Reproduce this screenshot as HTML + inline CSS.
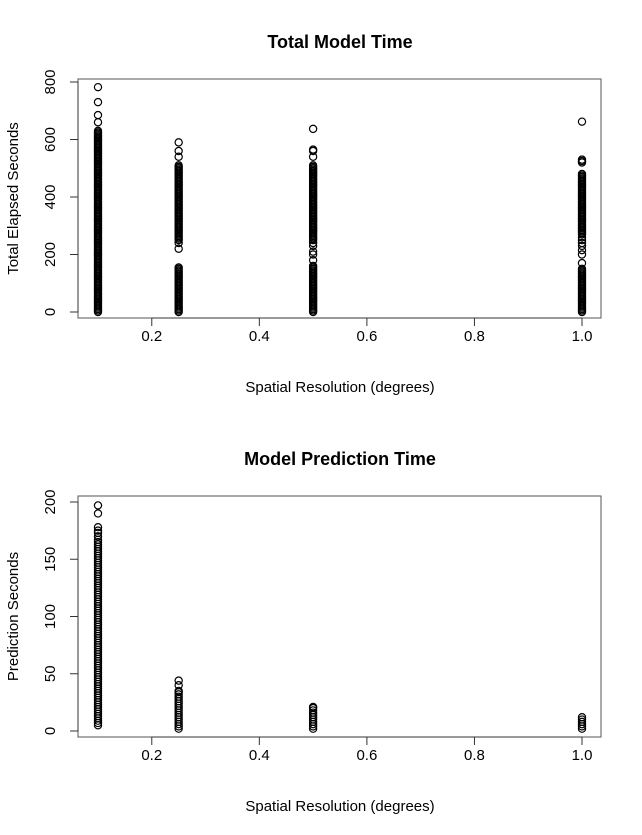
<!DOCTYPE html>
<html><head><meta charset="utf-8"><style>
body{margin:0;background:#fff;}
svg{display:block;font-family:"Liberation Sans",Arial,sans-serif;}
</style></head><body>
<svg id="s" width="642" height="835" viewBox="0 0 642 835"></svg>
<script>
const xCats=[0.1,0.25,0.5,1.0];
const xTicks=[0.2,0.4,0.6,0.8,1.0];
const topYTicks=[0,200,400,600,800];
const botYTicks=[0,50,100,150,200];
const top01=[0,5,10,15,20,25,30,35,40,45,50,55,60,65,70,75,80,85,90,95,100,105,110,115,120,125,130,135,140,145,150,155,160,165,170,175,180,185,190,195,200,205,210,215,220,225,230,235,240,245,250,255,260,265,270,275,280,285,290,295,300,305,310,315,320,325,330,335,340,345,350,355,360,365,370,375,380,385,390,395,400,405,410,415,420,425,430,435,440,445,450,455,460,465,470,475,480,485,490,495,500,505,510,515,520,525,530,535,540,545,550,555,560,565,570,575,580,585,590,595,600,605,610,615,620,625,630,660,685,730,782];
const top025=[0,5,10,15,20,25,30,35,40,45,50,55,60,65,70,75,80,85,90,95,100,105,110,115,120,125,130,135,140,145,150,155,220,240,250,255,260,265,270,275,280,285,290,295,300,305,310,315,320,325,330,335,340,345,350,355,360,365,370,375,380,385,390,395,400,405,410,415,420,425,430,435,440,445,450,455,460,465,470,475,480,485,490,495,500,505,510,540,560,590];
const top05=[0,5,10,15,20,25,30,35,40,45,50,55,60,65,70,75,80,85,90,95,100,105,110,115,120,125,130,135,140,145,150,155,160,180,200,210,230,240,250,255,260,265,270,275,280,285,290,295,300,305,310,315,320,325,330,335,340,345,350,355,360,365,370,375,380,385,390,395,400,405,410,415,420,425,430,435,440,445,450,455,460,465,470,475,480,485,490,495,500,505,510,540,560,565,637];
const top10=[0,5,10,15,20,25,30,35,40,45,50,55,60,65,70,75,80,85,90,95,100,105,110,115,120,125,130,135,140,145,150,170,200,215,230,240,250,260,270,275,280,285,290,295,300,305,310,315,320,325,330,335,340,345,350,355,360,365,370,375,380,385,390,395,400,405,410,415,420,425,430,435,440,445,450,455,460,465,470,475,480,520,525,530,662];
const bot01=[5,7,9,11,13,15,17,19,21,23,25,27,29,31,33,35,37,39,41,43,45,47,49,51,53,55,57,59,61,63,65,67,69,71,73,75,77,79,81,83,85,87,89,91,93,95,97,99,101,103,105,107,109,111,113,115,117,119,121,123,125,127,129,131,133,135,137,139,141,143,145,147,149,151,153,155,157,159,161,163,165,167,170,173,175,178,190,197];
const bot025=[2,4,6,8,10,12,14,16,18,20,22,24,26,28,30,32,34,35,40,44];
const bot05=[2,4,6,8,10,12,14,16,18,20,21];
const bot10=[2,4,6,8,10,12];

const NS="http://www.w3.org/2000/svg";
const svg=document.getElementById('s');
function mk(tag,attrs,parent){const e=document.createElementNS(NS,tag);for(const k in attrs)e.setAttribute(k,attrs[k]);(parent||svg).appendChild(e);return e;}
const xScale=v=>98+(v-0.1)*(484/0.9);

function panel(o){
  const g=mk('g',{});
  
  
  const yScale=v=>o.y0-(v/o.ymax)*(o.y0-o.y1);
  const box=mk('rect',{x:78,y:o.top,width:523,height:o.bot-o.top,fill:'none',stroke:'#555','stroke-width':1},g);
  
  
  const t=mk('text',{x:340,y:o.top-31,'text-anchor':'middle','font-size':18,'font-weight':'bold'},g);
  t.textContent=o.title;
  
  
  const xt=mk('text',{x:340,y:o.bot+74,'text-anchor':'middle','font-size':15},g);
  xt.textContent='Spatial Resolution (degrees)';
  
  
  const yt=mk('text',{x:0,y:0,'text-anchor':'middle','font-size':15,transform:`translate(18,${(o.top+o.bot)/2}) rotate(-90)`},g);
  yt.textContent=o.ylab;
  
  
  mk('line',{x1:xScale(xTicks[0]),x2:xScale(xTicks[xTicks.length-1]),y1:o.bot,y2:o.bot,stroke:'#333'},g);
  xTicks.forEach(v=>{
    mk('line',{x1:xScale(v),x2:xScale(v),y1:o.bot,y2:o.bot+8,stroke:'#333'},g);
    const l=mk('text',{x:xScale(v),y:o.bot+23,'text-anchor':'middle','font-size':15},g);
    l.textContent=v.toFixed(1);
    
    
  });
  mk('line',{x1:78,x2:78,y1:yScale(o.ticks[0]),y2:yScale(o.ticks[o.ticks.length-1]),stroke:'#333'},g);
  o.ticks.forEach(v=>{
    mk('line',{x1:70,x2:78,y1:yScale(v),y2:yScale(v),stroke:'#333'},g);
    const l=mk('text',{x:0,y:0,'text-anchor':'middle','font-size':15,transform:`translate(55,${yScale(v)}) rotate(-90)`},g);
    l.textContent=v;
    
    
  });
  o.series.forEach((arr,i)=>{
    arr.forEach(v=>{
      const c=mk('circle',{cx:xScale(xCats[i]),cy:yScale(v),r:3.6,fill:'none',stroke:'#000','stroke-width':1.2},g);
      
      
    });
  });
}
panel({name:'total-model-time-panel',title:'Total Model Time',ylab:'Total Elapsed Seconds',top:79,bot:318,y0:312,y1:82,ymax:800,ticks:topYTicks,series:[top01,top025,top05,top10]});
panel({name:'model-prediction-time-panel',title:'Model Prediction Time',ylab:'Prediction Seconds',top:496,bot:737,y0:731,y1:502,ymax:200,ticks:botYTicks,series:[bot01,bot025,bot05,bot10]});
</script>
</body></html>
